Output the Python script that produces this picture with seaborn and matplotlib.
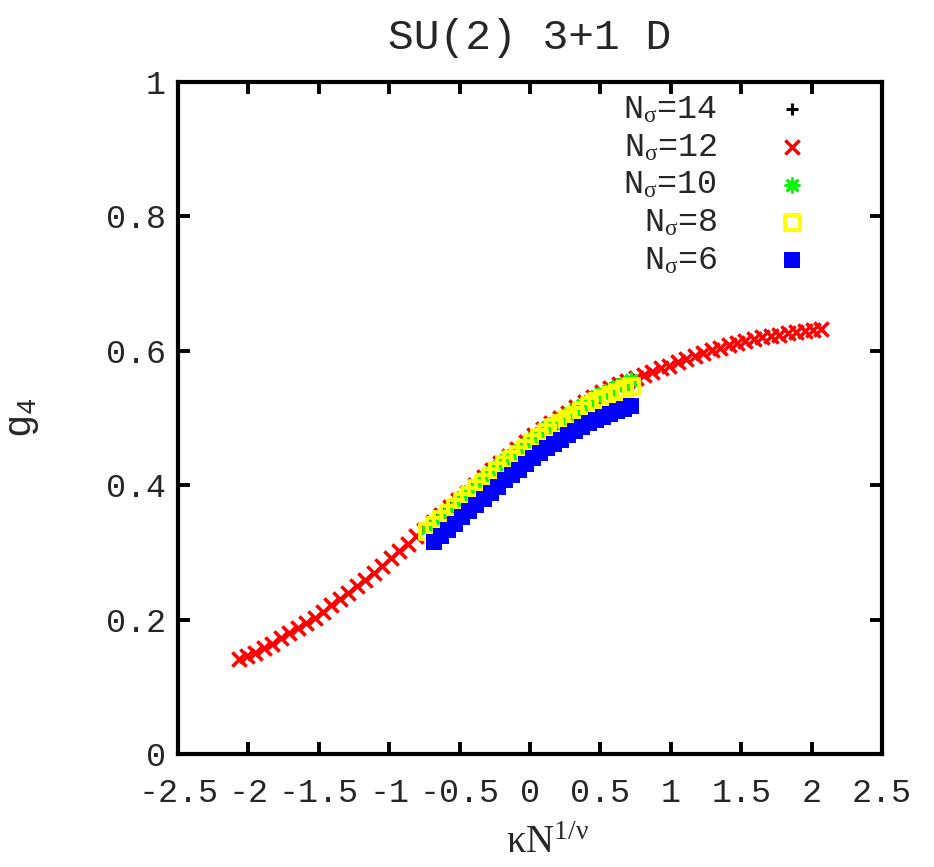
import matplotlib
matplotlib.use("Agg")
import matplotlib.pyplot as plt
import seaborn as sns
import pandas as pd
from matplotlib.ticker import FuncFormatter

# ---------------- data ----------------
x12 = [-2.07, -2.01, -1.95, -1.89, -1.83, -1.77, -1.71, -1.65, -1.59, -1.53,
       -1.47, -1.41, -1.35, -1.29, -1.23, -1.17, -1.11, -1.05, -0.99, -0.93,
       -0.87, -0.81, -0.75, -0.69, -0.63, -0.57, -0.51, -0.45, -0.39, -0.33,
       -0.27, -0.21, -0.15, -0.09, -0.03, 0.03, 0.09, 0.15, 0.21, 0.27,
       0.33, 0.39, 0.45, 0.51, 0.57, 0.63, 0.69, 0.75, 0.81, 0.87,
       0.93, 0.99, 1.05, 1.11, 1.17, 1.23, 1.29, 1.35, 1.41, 1.47,
       1.53, 1.59, 1.65, 1.71, 1.77, 1.83, 1.89, 1.95, 2.01, 2.07]
g12 = [0.141, 0.146, 0.151, 0.157, 0.164, 0.172, 0.180, 0.188, 0.195, 0.202,
       0.211, 0.221, 0.231, 0.240, 0.250, 0.259, 0.269, 0.280, 0.291, 0.302,
       0.313, 0.324, 0.334, 0.345, 0.356, 0.367, 0.378, 0.389, 0.401, 0.412,
       0.423, 0.433, 0.443, 0.454, 0.464, 0.474, 0.483, 0.492, 0.500, 0.508,
       0.516, 0.524, 0.531, 0.538, 0.544, 0.550, 0.555, 0.560, 0.564, 0.569,
       0.574, 0.578, 0.583, 0.588, 0.592, 0.597, 0.601, 0.604, 0.608, 0.611,
       0.614, 0.617, 0.620, 0.622, 0.624, 0.626, 0.628, 0.629, 0.631, 0.632]

x_inner = [-0.73, -0.68, -0.63, -0.58, -0.53, -0.48, -0.43, -0.38, -0.33, -0.28,
           -0.23, -0.18, -0.13, -0.08, -0.03, 0.02, 0.07, 0.12, 0.17, 0.22,
           0.27, 0.32, 0.37, 0.42, 0.47, 0.52, 0.57, 0.62, 0.67, 0.72]
g14 = [0.339, 0.348, 0.357, 0.366, 0.375, 0.385, 0.394, 0.404, 0.413, 0.422,
       0.431, 0.440, 0.448, 0.456, 0.465, 0.473, 0.481, 0.489, 0.496, 0.502,
       0.509, 0.515, 0.522, 0.529, 0.535, 0.540, 0.545, 0.550, 0.554, 0.559]
g10 = [0.336, 0.345, 0.354, 0.363, 0.372, 0.382, 0.391, 0.401, 0.410, 0.419,
       0.428, 0.437, 0.445, 0.453, 0.462, 0.470, 0.478, 0.486, 0.493, 0.499,
       0.506, 0.512, 0.519, 0.526, 0.532, 0.537, 0.542, 0.547, 0.551, 0.556]
g8 = [0.331, 0.340, 0.349, 0.358, 0.367, 0.376, 0.385, 0.395, 0.404, 0.413,
      0.422, 0.430, 0.438, 0.446, 0.455, 0.463, 0.471, 0.478, 0.485, 0.491,
      0.498, 0.504, 0.511, 0.518, 0.524, 0.529, 0.534, 0.538, 0.542, 0.547]

x6 = [-0.68, -0.63, -0.58, -0.53, -0.48, -0.43, -0.38, -0.33, -0.28, -0.23,
      -0.18, -0.13, -0.08, -0.03, 0.02, 0.07, 0.12, 0.17, 0.22, 0.27,
      0.32, 0.37, 0.42, 0.47, 0.52, 0.57, 0.62, 0.67, 0.72]
g6 = [0.315, 0.324, 0.333, 0.342, 0.352, 0.361, 0.371, 0.380, 0.389, 0.398,
      0.407, 0.415, 0.423, 0.432, 0.440, 0.448, 0.455, 0.462, 0.468, 0.474,
      0.480, 0.486, 0.492, 0.497, 0.502, 0.506, 0.510, 0.514, 0.518]

labels = [r"N$_{\mathrm{\sigma}}$=14", r"N$_{\mathrm{\sigma}}$=12",
          r"N$_{\mathrm{\sigma}}$=10", r"N$_{\mathrm{\sigma}}$=8",
          r"N$_{\mathrm{\sigma}}$=6"]
x_ticks = [-2.5, -2, -1.5, -1, -0.5, 0, 0.5, 1, 1.5, 2, 2.5]
y_ticks = [0, 0.2, 0.4, 0.6, 0.8, 1]

# ---------------- style ----------------
sns.set_style("ticks")
plt.rcParams["font.family"] = ["Liberation Mono", "DejaVu Sans"]
plt.rcParams["mathtext.fontset"] = "custom"
plt.rcParams["mathtext.rm"] = "Liberation Serif"
plt.rcParams["mathtext.it"] = "Liberation Serif:italic"
plt.rcParams["mathtext.bf"] = "Liberation Serif:bold"
plt.rcParams["axes.unicode_minus"] = False

FS = 24

fig = plt.figure(figsize=(9.34, 8.67), dpi=100)
ax = fig.add_axes([178 / 934, 113 / 867, 704 / 934, 672 / 867])

series = [
    (x_inner, g14, labels[0], dict(marker="+", color="black", s=80, linewidths=2.2)),
    (x12, g12, labels[1], dict(marker="x", color="#ff0000", s=105, linewidths=2.5)),
    (x_inner, g10, labels[2], dict(marker=(8, 2, 0), color="#00ff00", s=90, linewidths=2.2)),
    (x_inner, g8, labels[3], dict(marker="s", facecolors="none", edgecolors="#ffff00", s=120, linewidths=2.8)),
    (x6, g6, labels[4], dict(marker="s", color="#0000ff", s=140, linewidths=0)),
]
for xs, ys, lab, kw in series:
    df = pd.DataFrame({"x": xs, "g4": ys})
    sns.scatterplot(data=df, x="x", y="g4", ax=ax, label=lab, **kw)

ax.set_xlim(-2.5, 2.5)
ax.set_ylim(0, 1)
ax.set_xticks(x_ticks)
ax.set_yticks(y_ticks)
fmt = FuncFormatter(lambda v, p: ("%g" % v))
ax.xaxis.set_major_formatter(fmt)
ax.yaxis.set_major_formatter(fmt)
ax.tick_params(axis="both", which="major", direction="in", length=8.5, width=2.8,
               top=True, right=True, labelsize=FS, color="black")
ax.tick_params(axis="x", pad=17)
ax.tick_params(axis="y", pad=9)
for sp in ax.spines.values():
    sp.set_linewidth(3)
    sp.set_color("black")

ax.set_xlabel(r"$\mathrm{\kappa N}^{\mathrm{1/\nu}}$", fontsize=28)
ax.set_ylabel(r"g$_\mathregular{4}$", fontsize=28)
ax.xaxis.set_label_coords(0.525, -0.105)
ax.yaxis.set_label_coords(-0.195, 0.5)
ax.set_title("SU(2) 3+1 D", fontsize=31, pad=24)

leg = ax.legend(loc="upper right", bbox_to_anchor=(0.896, 0.982), frameon=False,
                markerfirst=False, fontsize=FS, handlelength=1.0,
                handletextpad=1.75, labelspacing=0.2, borderpad=0, borderaxespad=0)

fig.savefig("out.png", dpi=100)
